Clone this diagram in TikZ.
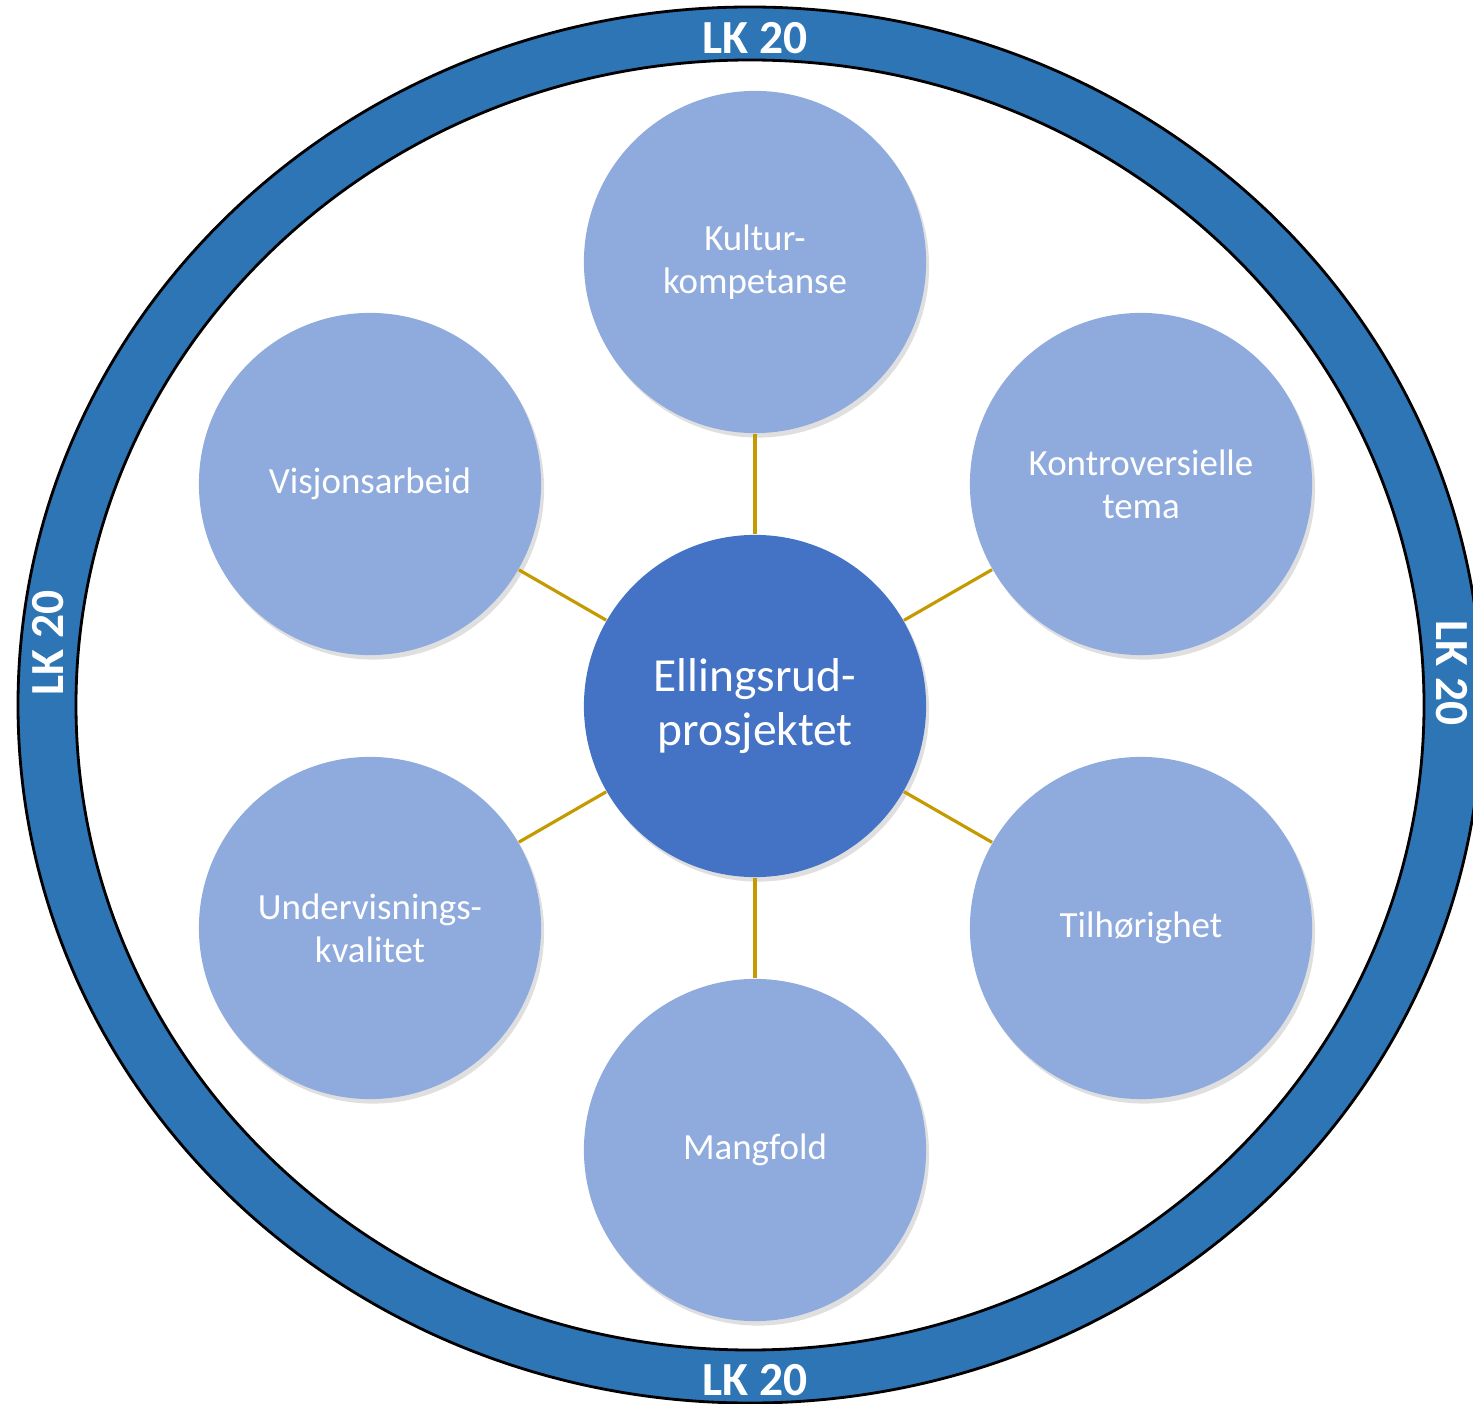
\documentclass[tikz,border=0pt]{standalone}
\usepackage{fontspec}
\setmainfont{Carlito}
\usetikzlibrary{shadows}
\definecolor{ringblue}{HTML}{2E75B6}
\definecolor{hubblue}{HTML}{4472C4}
\definecolor{topicblue}{HTML}{8FAADC}
\definecolor{linkgold}{HTML}{C59A00}
\tikzset{
	softshadow/.style={
		drop shadow={shadow xshift=0.03cm, shadow yshift=-0.045cm, opacity=0.25}
	},
	link/.style={
		draw=linkgold,
		line width=0.9pt
	},
	ringlabel/.style={
		text=white,
		font=\bfseries\fontsize{13.5}{15}\selectfont,
		inner sep=0pt
	}
}

\begin{document}
\begin{tikzpicture}[
		x=0.01cm,y=-0.01cm,
		topic/.style={
			circle,
			fill=topicblue,
			text=white,
			minimum size=3.42cm,
			align=center,
			font=\fontsize{10.5}{12.2}\selectfont,
			softshadow
		},
		hub/.style={
			topic,
			fill=hubblue,
			font=\fontsize{13.5}{15.2}\selectfont
		}]

	\useasboundingbox (0,0) rectangle (1473,1404);

	%%% Ring
	\fill[ringblue, even odd rule, draw=black, line width=0.8pt]
		(750,705) ellipse [x radius=732, y radius=698]
		(750,705) ellipse [x radius=674, y radius=645];

	\node at (755,38) [ringlabel] (lktop) {LK 20};
	\node at (755,1380) [ringlabel] (lkbottom) {LK 20};
	\node at (48,643) [ringlabel,rotate=90] (lkleft) {LK 20};
	\node at (1452,673) [ringlabel,rotate=-90] (lkright) {LK 20};

	%%% Nodes
	%% Center
	\node at (755,706) [hub] (ellingsrud) {Ellingsrud-\\prosjektet};

	%% Around
	\node at (755,262) [topic] (kultur) {Kultur-\\kompetanse};
	\node at (1141,484) [topic] (kontroversielle) {Kontroversielle\\tema};
	\node at (1141,928) [topic] (tilhorighet) {Tilhørighet};
	\node at (755,1150) [topic] (mangfold) {Mangfold};
	\node at (370,928) [topic] (undervisning) {Undervisnings-\\kvalitet};
	\node at (370,484) [topic] (visjon) {Visjonsarbeid};

	%%% Connections
	\path [link] (ellingsrud) edge (kultur);
	\path [link] (ellingsrud) edge (kontroversielle);
	\path [link] (ellingsrud) edge (tilhorighet);
	\path [link] (ellingsrud) edge (mangfold);
	\path [link] (ellingsrud) edge (undervisning);
	\path [link] (ellingsrud) edge (visjon);
\end{tikzpicture}
\end{document}
